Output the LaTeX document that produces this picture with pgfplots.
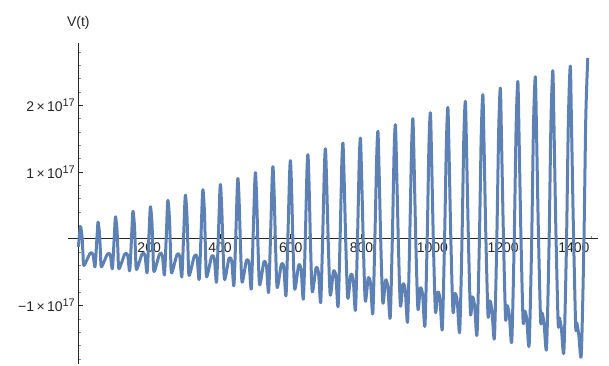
\documentclass[border=0pt]{standalone}
\usepackage{pgfplots}
\pgfplotsset{compat=1.18}
\usepackage{fontspec}
\setmainfont{Liberation Sans}
\definecolor{mblue}{rgb}{0.368417,0.506779,0.709798}
\newcommand{\sci}[1]{#1\,×\,10\raisebox{0.65ex}{\fontsize{11}{11}\selectfont 17}}
\begin{document}
\begin{tikzpicture}
\useasboundingbox (-68.1pt,-0.7pt) rectangle (540.9pt,364.3pt);
\begin{axis}[
  at={(0pt,0pt)}, anchor=south west, scale only axis,
  width=529.9pt, height=321pt,
  xmin=-29, xmax=1468, ymin=-1.88, ymax=2.93,
  axis lines=middle,
  axis line style={-, black!85, line width=0.8pt},
  every inner x axis line/.append style={-},
  every inner y axis line/.append style={-},
  clip=false,
  xtick={200,400,600,800,1000,1200,1400},
  xticklabels={200,400,600,800,1000,1200,1400},
  ytick={-1,1,2},
  yticklabels={\sci{−1},\sci{1},\sci{2}},
  minor xtick={50,100,150,250,300,350,450,500,550,650,700,750,850,900,950,1050,1100,1150,1250,1300,1350,1450},
  minor ytick={-1.8,-1.6,-1.4,-1.2,-0.8,-0.6,-0.4,-0.2,0.2,0.4,0.6,0.8,1.2,1.4,1.6,1.8,2.2,2.4,2.6,2.8},
  tick align=inside,
  major tick length=5pt, minor tick length=3pt,
  major tick style={black!85, line width=0.7pt},
  minor tick style={black!45, line width=0.6pt},
  ticklabel style={font=\fontsize{14}{14}\selectfont, text=black!85},
]
\addplot[mblue, line width=3pt, smooth, tension=0.45, line join=round] coordinates {
(0,-0.12) (3.3,0.07)
(6.5,0.18) (10.4,0.03) (13.2,-0.24) (15.8,-0.40) (32.8,-0.22) (41.2,-0.23) (46.9,-0.42) (51.7,-0.05) (54.6,0.20)
(55.9,0.25) (59.8,0.075) (62.6,-0.23) (65.3,-0.42) (81.9,-0.23) (90.2,-0.24) (96.0,-0.45) (100.8,-0.03) (103.8,0.27)
(105.3,0.33) (109.2,0.13) (112.1,-0.23) (114.8,-0.45) (131.0,-0.23) (139.2,-0.245) (145.0,-0.48) (150.0,0.00) (153.1,0.35)
(154.7,0.41) (158.6,0.19) (161.5,-0.22) (164.4,-0.46) (180.2,-0.225) (188.3,-0.25) (194.1,-0.51) (199.1,0.015) (202.4,0.41)
(204.1,0.48) (208.0,0.235) (210.9,-0.21) (213.9,-0.49) (229.3,-0.23) (237.3,-0.25) (243.2,-0.54) (248.3,0.04) (251.6,0.49)
(253.5,0.57) (257.4,0.30) (260.4,-0.19) (263.4,-0.51) (278.4,-0.24) (286.3,-0.26) (292.2,-0.57) (297.4,0.05) (300.9,0.55)
(302.9,0.65) (306.8,0.35) (309.8,-0.19) (312.9,-0.55) (327.5,-0.26) (335.3,-0.28) (341.3,-0.61) (346.6,0.07) (350.2,0.62)
(352.3,0.73) (356.2,0.40) (359.2,-0.18) (362.5,-0.57) (376.6,-0.26) (384.3,-0.305) (390.4,-0.65) (395.7,0.08) (399.5,0.68)
(401.7,0.81) (405.1,0.45) (409.0,-0.19) (413.2,-0.61) (425.7,-0.29) (433.3,-0.34) (439.4,-0.70) (444.9,0.08) (448.9,0.76)
(451.1,0.90) (454.5,0.52) (458.4,-0.17) (462.7,-0.65) (474.9,-0.32) (482.4,-0.37) (488.5,-0.75) (494.0,0.10) (498.2,0.82)
(500.5,0.99) (503.9,0.58) (507.8,-0.17) (512.2,-0.69) (524.0,-0.35) (531.4,-0.41) (537.5,-0.80) (543.2,0.10) (547.4,0.89)
(549.9,1.08) (553.3,0.64) (557.3,-0.155) (561.7,-0.73) (573.1,-0.39) (580.4,-0.425) (586.6,-0.85) (592.3,0.10) (596.6,0.95)
(599.3,1.17) (602.7,0.69) (606.7,-0.155) (611.3,-0.755) (622.2,-0.40) (629.4,-0.465) (635.7,-0.90) (641.5,0.09) (645.8,1.02)
(648.7,1.26) (652.1,0.75) (656.1,-0.13) (660.8,-0.795) (671.3,-0.44) (678.4,-0.51) (684.7,-0.95) (690.6,0.11) (695.1,1.07)
(698.1,1.35) (701.5,0.83) (706.3,-0.11) (711.6,-0.845) (720.5,-0.49) (727.5,-0.56) (733.8,-1.01) (739.8,0.09) (744.3,1.14)
(747.5,1.435) (750.9,0.885) (755.7,-0.115) (761.1,-0.89) (769.6,-0.54) (776.5,-0.615) (782.9,-1.065) (788.9,0.07) (793.5,1.175)
(796.9,1.51) (800.3,0.93) (805.1,-0.09) (810.6,-0.93) (818.7,-0.59) (825.5,-0.67) (831.9,-1.115) (838.0,0.08) (842.8,1.23)
(846.3,1.61) (849.7,1.00) (854.5,-0.09) (860.2,-0.96) (867.8,-0.62) (874.5,-0.73) (881.0,-1.18) (887.2,0.06) (892.0,1.31)
(895.7,1.71) (899.1,1.06) (904.0,-0.06) (909.7,-1.00) (916.9,-0.68) (923.5,-0.77) (930.1,-1.24) (936.3,0.04) (941.2,1.34)
(945.1,1.80) (948.5,1.12) (953.4,-0.06) (959.2,-1.05) (966.0,-0.74) (972.5,-0.835) (979.1,-1.30) (985.5,0.01) (990.4,1.41)
(994.5,1.89) (997.9,1.21) (1002.8,-0.02) (1008.7,-1.09) (1015.2,-0.80) (1021.6,-0.90) (1028.2,-1.35) (1034.6,0.01) (1039.7,1.44)
(1043.9,1.97) (1047.3,1.26) (1052.3,-0.01) (1058.3,-1.09) (1064.3,-0.82) (1070.6,-0.95) (1077.3,-1.39) (1083.8,-0.01) (1088.9,1.51)
(1093.3,2.06) (1096.7,1.33) (1101.7,0.04) (1107.8,-1.12) (1113.4,-0.87) (1119.6,-1.01) (1126.3,-1.43) (1132.9,-0.03) (1138.1,1.55)
(1142.7,2.16) (1146.1,1.40) (1151.1,0.05) (1157.3,-1.15) (1162.5,-0.93) (1168.6,-1.08) (1175.4,-1.48) (1182.1,-0.02) (1187.4,1.62)
(1192.1,2.26) (1195.5,1.46) (1200.6,0.10) (1206.8,-1.19) (1211.6,-1.00) (1217.6,-1.15) (1224.4,-1.53) (1231.2,-0.05) (1236.6,1.66)
(1241.5,2.36) (1244.9,1.57) (1250.0,0.11) (1256.3,-1.23) (1260.7,-1.08) (1266.6,-1.195) (1273.5,-1.59) (1280.4,-0.10) (1285.8,1.71)
(1290.9,2.43) (1294.3,1.62) (1299.4,0.15) (1305.9,-1.23) (1309.9,-1.11) (1315.7,-1.27) (1322.6,-1.64) (1329.5,-0.14) (1335.0,1.73)
(1340.3,2.52) (1343.7,1.68) (1348.9,0.16) (1355.4,-1.27) (1359.0,-1.185) (1364.7,-1.35) (1371.6,-1.69) (1378.7,-0.15) (1384.3,1.78)
(1389.7,2.59) (1393.1,1.72) (1398.3,0.21) (1404.9,-1.31) (1408.1,-1.26) (1413.7,-1.44) (1420.7,-1.74) (1427.8,-0.18) (1433.5,1.82)
(1439.1,2.71)
};
\node[anchor=base, font=\fontsize{14}{14}\selectfont, text=black!85] at (axis cs:0,2.93) [yshift=17pt] {V(t)};
\end{axis}
\end{tikzpicture}
\end{document}
